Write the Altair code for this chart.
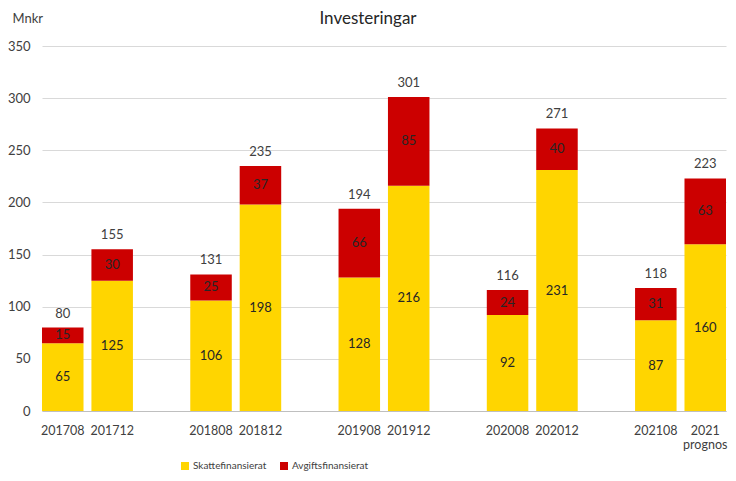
import altair as alt
import pandas as pd

categories = ["201708", "201712", "201808", "201812", "201908", "201912",
              "202008", "202012", "202108", "2021 prognos"]
skatt = [65, 125, 106, 198, 128, 216, 92, 231, 87, 160]
avgift = [15, 30, 25, 37, 66, 85, 24, 40, 31, 63]
totals = [80, 155, 131, 235, 194, 301, 116, 271, 118, 223]
series = ["Skattefinansierat", "Avgiftsfinansierat"]
colors = ["#FFD500", "#CC0000"]
title_text = ["Investeringar"]

domain = ["201708", "201712", "_1", "201808", "201812", "_2", "201908", "201912",
          "_3", "202008", "202012", "_4", "202108", "2021 prognos"]

rows = []
for c, s, a in zip(categories, skatt, avgift):
    rows.append({"cat": c, "serie": series[0], "val": s, "start": 0, "end": s})
    rows.append({"cat": c, "serie": series[1], "val": a, "start": s, "end": s + a})
df = pd.DataFrame(rows)
df["mid"] = (df["start"] + df["end"]) / 2
tot = pd.DataFrame({"cat": categories, "total": totals})

FONT = "Lato"
TXT = "#404040"

xscale = alt.Scale(domain=domain, paddingInner=0.16, paddingOuter=0)
x = alt.X("cat:N", scale=xscale,
          axis=alt.Axis(title=None, labelAngle=0, ticks=False, domainColor="#BFBFBF",
                        labelFont=FONT, labelFontSize=12.5, labelColor=TXT, labelPadding=13,
                        labelExpr="indexof(datum.value,'_')==0 ? '' : split(datum.value,' ')"))

bars = alt.Chart(df).mark_bar().encode(
    x=x,
    y=alt.Y("start:Q", scale=alt.Scale(domain=[0, 350]),
            axis=alt.Axis(values=[0, 50, 100, 150, 200, 250, 300, 350], ticks=False, domain=False,
                          gridColor="#D9D9D9", labelFont=FONT, labelFontSize=13, labelColor=TXT,
                          labelPadding=12, title="Mnkr", titleAngle=0, titleX=-30, titleY=-28,
                          titleAlign="left", titleBaseline="middle", titleFont=FONT,
                          titleFontSize=13, titleFontWeight="normal", titleColor=TXT)),
    y2="end:Q",
    color=alt.Color("serie:N", scale=alt.Scale(domain=series, range=colors),
                    legend=alt.Legend(title=None, orient="none", direction="horizontal",
                                      legendX=138, legendY=415, symbolType="square",
                                      symbolSize=64, symbolStrokeWidth=0, labelFont=FONT,
                                      labelFontSize=10, labelColor=TXT, columnPadding=12,
                                      labelOffset=3)),
)

seg_labels = alt.Chart(df).mark_text(font=FONT, fontSize=13, color="#262626").encode(
    x=alt.X("cat:N", scale=xscale),
    y="mid:Q",
    text="val:Q",
)

tot_labels = alt.Chart(tot).mark_text(font=FONT, fontSize=13, color=TXT, dy=-14).encode(
    x=alt.X("cat:N", scale=xscale),
    y="total:Q",
    text="total:Q",
)

title = alt.Chart(pd.DataFrame({"t": title_text})).mark_text(
    font=FONT, fontSize=17, color="#262626", baseline="middle", align="center"
).encode(x=alt.value(326), y=alt.value(-27), text="t:N")

chart = alt.layer(bars, seg_labels, tot_labels, title).properties(
    width=684, height=365,
    autosize=alt.AutoSizeParams(type="none"),
    padding={"left": 34, "top": 38, "right": 2, "bottom": 62},
).configure_view(stroke=None)

chart.save("out.html", embed_options={"renderer": "svg", "actions": False})
